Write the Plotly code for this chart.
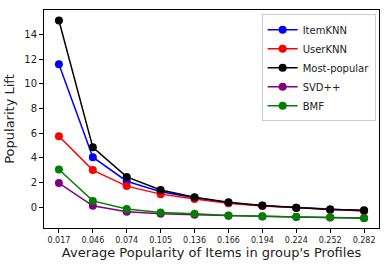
import plotly.graph_objects as go

# --- Data ---
x_labels = ["0.017", "0.046", "0.074", "0.105", "0.136", "0.166", "0.194", "0.224", "0.252", "0.282"]
item_knn = [11.6, 4.05, 2.1, 1.25, 0.75, 0.35, 0.1, -0.05, -0.2, -0.3]
user_knn = [5.75, 3.0, 1.7, 1.05, 0.65, 0.3, 0.08, -0.07, -0.22, -0.32]
most_popular = [15.15, 4.85, 2.45, 1.38, 0.8, 0.4, 0.12, -0.05, -0.2, -0.25]
svdpp = [1.95, 0.1, -0.38, -0.55, -0.62, -0.7, -0.76, -0.8, -0.84, -0.88]
bmf = [3.05, 0.5, -0.15, -0.45, -0.55, -0.68, -0.74, -0.78, -0.82, -0.9]

series = [
    ("ItemKNN", item_knn, "blue"),
    ("UserKNN", user_knn, "red"),
    ("Most-popular", most_popular, "black"),
    ("SVD++", svdpp, "purple"),
    ("BMF", bmf, "green"),
]

FONT = "DejaVu Sans"

fig = go.Figure()
for name, vals, color in series:
    fig.add_trace(go.Scatter(
        x=x_labels, y=vals, name=name, mode="lines+markers",
        line=dict(color=color, width=1.5),
        marker=dict(color=color, size=8),
    ))

axis_common = dict(
    showline=True, linecolor="black", linewidth=1, mirror=True,
    ticks="outside", ticklen=4, tickcolor="black",
    showgrid=False, zeroline=False, automargin=False,
)

fig.update_layout(
    width=389, height=268,
    margin=dict(l=44, r=10, t=10, b=40),
    paper_bgcolor="white", plot_bgcolor="white",
    font=dict(family=FONT, color="#222"),
    showlegend=True,
    legend=dict(
        x=0.99, y=0.98, xanchor="right", yanchor="top",
        bordercolor="#cccccc", borderwidth=1, bgcolor="white",
        font=dict(size=10, family=FONT), tracegroupgap=0,
        itemwidth=30,
    ),
    xaxis=dict(
        type="category", range=[-0.44, 9.44],
        tickfont=dict(size=8, family=FONT),
        title=dict(text="Average Popularity of Items in group's Profiles",
                   font=dict(size=13, family=FONT), standoff=4),
        **axis_common,
    ),
    yaxis=dict(
        range=[-1.7, 16.0], tickvals=[0, 2, 4, 6, 8, 10, 12, 14],
        tickfont=dict(size=10, family=FONT),
        title=dict(text="Popularity Lift", font=dict(size=13, family=FONT), standoff=6),
        **axis_common,
    ),
)

# the default page has an 8px body margin; remove it so the figure sits at the window corner
fig.write_html("out.html", config={"displayModeBar": False},
               post_script="document.body.style.margin='0';")
